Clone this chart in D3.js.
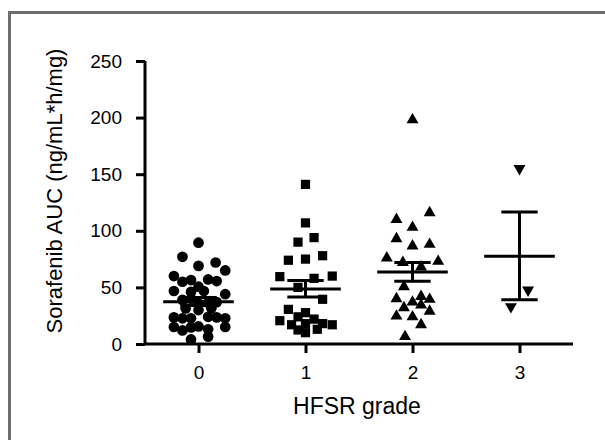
<!DOCTYPE html>
<html>
<head>
<meta charset="utf-8">
<script src="https://cdn.jsdelivr.net/npm/d3@7"></script>
<style>
  body { margin: 0; background: #fff; }
  svg { display: block; font-family: "Liberation Sans", Arial, sans-serif; }
</style>
</head>
<body>
<svg id="chart"></svg>
<script>
// HFSR grade groups
const grades = [0, 1, 2, 3];
const tickLabels = ['0', '1', '2', '3'];
const yTicks = [0, 50, 100, 150, 200, 250];

// individual points: [x offset within group, AUC]
const grade0 = [
  [0.0, 89.5], [-0.15, 77], [0.0, 69], [0.16, 72], [0.25, 65], [-0.23, 60],
  [-0.15, 55], [-0.07, 56.5], [0.09, 57], [0.17, 55.6], [0.0, 50.6], [-0.23, 46.8],
  [-0.07, 46], [0.05, 46.8], [0.25, 44], [-0.15, 39], [-0.07, 40], [0.0, 36],
  [0.09, 36.5], [0.17, 37], [-0.12, 31.5], [0.0, 30], [0.12, 31.5], [-0.23, 23.5],
  [-0.15, 22.7], [-0.07, 22.7], [0.09, 24], [0.17, 23.5], [0.25, 22.7], [-0.23, 15],
  [-0.07, 14.7], [0.0, 15.5], [0.09, 13], [0.25, 15], [-0.15, 12], [-0.07, 4], [0.09, 6.5]
];
const grade1 = [
  [0.0, 141], [0.0, 107], [-0.07, 90], [0.08, 94], [-0.16, 74], [0.0, 75],
  [0.16, 78], [-0.24, 59.5], [0.08, 58], [0.25, 60], [-0.07, 50], [0.16, 39.5],
  [-0.16, 30.6], [0.0, 27.7], [-0.24, 20.6], [-0.07, 24], [0.08, 22], [-0.13, 17],
  [0.0, 18], [0.16, 18], [0.25, 17], [-0.07, 12.4], [0.0, 10], [0.11, 13]
];
const grade2 = [
  [0.0, 198], [0.16, 116], [-0.15, 110], [0.0, 103], [-0.15, 93], [0.0, 86.6],
  [0.16, 88], [-0.24, 76], [-0.09, 72], [0.24, 73], [0.08, 68], [-0.08, 50.6],
  [-0.15, 40], [0.08, 42], [0.0, 37], [0.16, 39.5], [0.08, 34.5], [-0.08, 32],
  [0.16, 29], [-0.15, 24.7], [0.0, 24], [0.08, 17], [-0.07, 6.5]
];
const grade3 = [[0.0, 155], [0.08, 47.7], [-0.08, 33]];

// mean and SEM
const means = [37.4, 48.5, 63.5, 77.5];
const semLow = [34, 41.5, 55.5, 39];
const semHigh = [41, 56, 72, 116.5];

const W = 605, H = 440;
const svg = d3.select('#chart').attr('width', W).attr('height', H);

// outer frame
svg.append('rect')
  .attr('x', 9.5).attr('y', 12.5)
  .attr('width', 700).attr('height', 600)
  .attr('fill', 'none')
  .attr('stroke', '#6e6e6e')
  .attr('stroke-width', 3);

const xScale = d3.scaleLinear().domain([-0.5, 3.5]).range([145, 573]);
const yScale = d3.scaleLinear().domain([0, 250]).range([344, 61]);

// y axis
const yAxis = d3.axisLeft(yScale).tickValues(yTicks).tickSize(9).tickPadding(14);
const gy = svg.append('g').attr('transform', 'translate(145,0)').call(yAxis);
gy.select('.domain').attr('d', `M0,${yScale(250)}V${yScale(0)}`).attr('stroke-width', 3);
gy.selectAll('.tick line').attr('stroke-width', 3);
gy.selectAll('.tick text').attr('font-size', 19).attr('fill', '#000');

// x axis
const xAxis = d3.axisBottom(xScale).tickValues(grades)
  .tickFormat((d, i) => tickLabels[i]).tickSize(9).tickPadding(13);
const gx = svg.append('g').attr('transform', 'translate(0,344)').call(xAxis);
gx.select('.domain').attr('d', `M${xScale(-0.5)},0H${xScale(3.5)}`).attr('stroke-width', 3);
gx.selectAll('.tick line').attr('stroke-width', 3);
gx.selectAll('.tick text').attr('font-size', 19).attr('fill', '#000');

// axis titles
svg.append('text')
  .attr('x', 357).attr('y', 414)
  .attr('text-anchor', 'middle')
  .attr('font-size', 23)
  .text('HFSR grade');

svg.append('text')
  .attr('transform', 'translate(62,191) rotate(-90)')
  .attr('text-anchor', 'middle')
  .attr('font-size', 22)
  .text('Sorafenib AUC (ng/mL*h/mg)');

const groups = [grade0, grade1, grade2, grade3];
const symbols = [d3.symbolCircle, d3.symbolSquare, d3.symbolTriangle, d3.symbolTriangle];
const sizes = [90, 85, 62, 62];

groups.forEach((pts, gi) => {
  svg.append('g')
    .selectAll('path')
    .data(pts)
    .enter()
    .append('path')
    .attr('d', d3.symbol().type(symbols[gi]).size(sizes[gi]))
    .attr('transform', (d) => {
      const t = 'translate(' + xScale(grades[gi] + d[0]) + ',' + yScale(d[1]) + ')';
      return gi === 3 ? t + ' rotate(180)' : t;
    })
    .attr('fill', '#000');
});

// mean and SEM bars
const meanHalf = 0.33, capHalf = 0.17;
const bars = svg.append('g').attr('stroke', '#000').attr('stroke-width', 3);
grades.forEach((g, i) => {
  bars.append('line')
    .attr('x1', xScale(g - meanHalf)).attr('x2', xScale(g + meanHalf))
    .attr('y1', yScale(means[i])).attr('y2', yScale(means[i]));
  bars.append('line')
    .attr('x1', xScale(g)).attr('x2', xScale(g))
    .attr('y1', yScale(semLow[i])).attr('y2', yScale(semHigh[i]));
  [semLow[i], semHigh[i]].forEach((v) => {
    bars.append('line')
      .attr('x1', xScale(g - capHalf)).attr('x2', xScale(g + capHalf))
      .attr('y1', yScale(v)).attr('y2', yScale(v));
  });
});
</script>
</body>
</html>
